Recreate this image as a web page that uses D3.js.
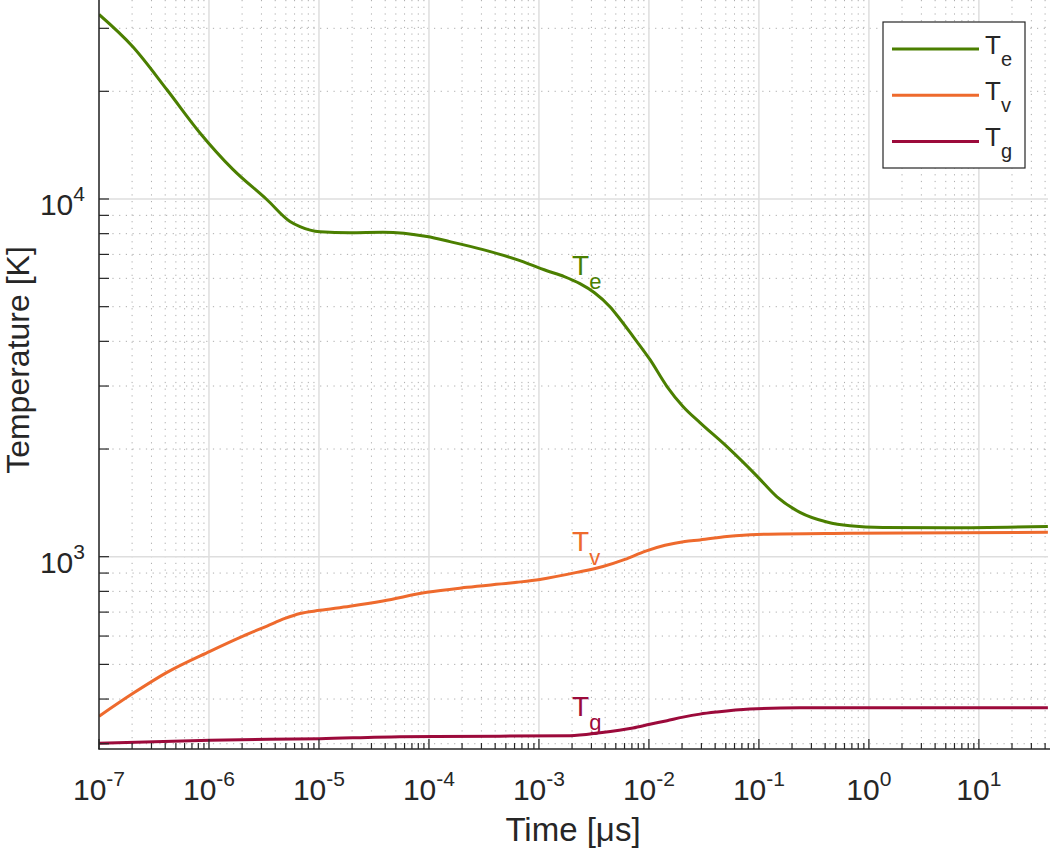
<!DOCTYPE html>
<html>
<head>
<meta charset="utf-8">
<script src="https://cdn.jsdelivr.net/npm/d3@7"></script>
<style>
  html, body { margin: 0; padding: 0; background: #fff; }
  svg { display: block; }
  text { font-family: "Liberation Sans", Arial, Helvetica, sans-serif; fill: #262626; }
</style>
</head>
<body>
<svg id="chart" width="1050" height="849"></svg>
<script>
// ---- data ----
const teTime = [1e-7, 2.04e-7, 4.15e-7, 8.28e-7, 1.65e-6, 3.37e-6, 5.45e-6, 6.72e-6, 1.02e-5, 1.91e-5, 3.82e-5, 9.59e-5, 1.55e-4, 3.1e-4, 6.31e-4, 1.18e-3, 1.7e-3, 2.36e-3, 3.2e-3, 4.42e-3, 5.45e-3, 7.16e-3, 1.02e-2, 1.46e-2, 2.04e-2, 2.91e-2, 5.12e-2, 9.6e-2, 0.146, 0.236, 0.415, 0.671, 1.34, 5.45, 42.4];
const teValues = [32800, 26600, 20200, 15300, 12100, 9950, 8650, 8370, 8100, 8050, 8070, 7850, 7600, 7220, 6770, 6300, 6070, 5800, 5470, 5000, 4620, 4130, 3560, 2990, 2630, 2370, 2030, 1680, 1470, 1330, 1250, 1220, 1207, 1205, 1215];

const tvTime = [1e-7, 2.04e-7, 4.15e-7, 1.02e-6, 2.04e-6, 3.37e-6, 4.91e-6, 6.72e-6, 1.02e-5, 1.91e-5, 3.82e-5, 9.59e-5, 2.22e-4, 6.31e-4, 1.02e-3, 2.21e-3, 3.82e-3, 6.05e-3, 9.2e-3, 1.4e-2, 2.12e-2, 2.91e-2, 5.12e-2, 9.6e-2, 0.671, 42.4];
const tvValues = [358, 415, 475, 544, 600, 640, 672, 694, 708, 727, 752, 795, 821, 848, 864, 904, 939, 983, 1035, 1076, 1103, 1114, 1139, 1154, 1162, 1170];

const tgTime = [1e-7, 1.02e-6, 1.02e-5, 5.45e-5, 4.42e-4, 1.91e-3, 3.59e-3, 7.16e-3, 1.02e-2, 1.46e-2, 2.04e-2, 2.91e-2, 4.15e-2, 8.28e-2, 0.236, 42.4];
const tgValues = [301, 307, 310, 314, 315, 316, 322, 332, 340, 348, 356, 363, 368, 375, 378, 378];

const seriesNames = ["e", "v", "g"];
const seriesColors = ["#4b7f00", "#ee6a2d", "#9c0a3b"];
const xTickExponents = [-7, -6, -5, -4, -3, -2, -1, 0, 1];
const yTickExponents = [3, 4];
const annotations = [
  { sub: "e", t: 2.0e-3, T: 6145 },
  { sub: "v", t: 2.0e-3, T: 1035 },
  { sub: "g", t: 2.0e-3, T: 358 }
];
const xLabel = "Time [μs]";
const yLabel = "Temperature [K]";

// ---- layout ----
const pLeft = 99, pRight = 1048, pTop = 0, pBottom = 749;
const x = d3.scaleLog().domain([1e-7, 42.5]).range([pLeft, pRight]);
const y = d3.scaleLog().domain([290, 36000]).range([pBottom, pTop]);

const svg = d3.select("#chart");
svg.append("rect").attr("width", 1050).attr("height", 849).attr("fill", "#fff");

const xMinor = [];
for (let e = -7; e <= 1; e++) for (let m = 2; m <= 9; m++) { const v = m * Math.pow(10, e); if (v <= 42.5) xMinor.push(v); }
const yMinor = [];
for (let e = 2; e <= 4; e++) for (let m = 2; m <= 9; m++) { const v = m * Math.pow(10, e); if (v >= 290 && v <= 36000) yMinor.push(v); }
const xMajor = xTickExponents.map(e => Math.pow(10, e));
const yMajor = yTickExponents.map(e => Math.pow(10, e));

const grid = svg.append("g");
grid.selectAll(".xm").data(xMinor).enter().append("line")
  .attr("x1", d => x(d)).attr("x2", d => x(d)).attr("y1", pTop).attr("y2", pBottom)
  .attr("stroke", "#8c8c8c").attr("stroke-width", 1).attr("stroke-dasharray", "1.2,5.5").attr("opacity", 0.7);
grid.selectAll(".ym").data(yMinor).enter().append("line")
  .attr("y1", d => y(d)).attr("y2", d => y(d)).attr("x1", pLeft).attr("x2", pRight)
  .attr("stroke", "#8c8c8c").attr("stroke-width", 1).attr("stroke-dasharray", "1.2,5.5").attr("opacity", 0.7);
grid.selectAll(".xM").data(xMajor).enter().append("line")
  .attr("x1", d => x(d)).attr("x2", d => x(d)).attr("y1", pTop).attr("y2", pBottom)
  .attr("stroke", "#dedede").attr("stroke-width", 1.5);
grid.selectAll(".yM").data(yMajor).enter().append("line")
  .attr("y1", d => y(d)).attr("y2", d => y(d)).attr("x1", pLeft).attr("x2", pRight)
  .attr("stroke", "#dedede").attr("stroke-width", 1.5);

// ---- lines ----
const series = [
  { name: seriesNames[0], color: seriesColors[0], t: teTime, v: teValues },
  { name: seriesNames[1], color: seriesColors[1], t: tvTime, v: tvValues },
  { name: seriesNames[2], color: seriesColors[2], t: tgTime, v: tgValues }
];
const line = d3.line().x(d => x(d[0])).y(d => y(d[1])).curve(d3.curveMonotoneX);
const plot = svg.append("g");
plot.append("clipPath").attr("id", "clip").append("rect")
  .attr("x", pLeft).attr("y", pTop).attr("width", pRight - pLeft + 2).attr("height", pBottom - pTop);
series.slice().reverse().forEach(s => {
  plot.append("path")
    .datum(s.t.map((t, i) => [t, s.v[i]]))
    .attr("d", line)
    .attr("fill", "none")
    .attr("stroke", s.color)
    .attr("stroke-width", 3)
    .attr("stroke-linejoin", "round")
    .attr("clip-path", "url(#clip)");
});

// ---- axes ----
const axes = svg.append("g");
axes.append("line").attr("x1", pLeft).attr("x2", pLeft).attr("y1", pTop).attr("y2", pBottom + 0.5)
  .attr("stroke", "#262626").attr("stroke-width", 1.5);
axes.append("line").attr("x1", pLeft - 0.5).attr("x2", pRight + 2).attr("y1", pBottom).attr("y2", pBottom)
  .attr("stroke", "#262626").attr("stroke-width", 1.5);
axes.selectAll(".xt").data(xMajor).enter().append("line")
  .attr("x1", d => x(d)).attr("x2", d => x(d)).attr("y1", pBottom).attr("y2", pBottom - 10)
  .attr("stroke", "#262626").attr("stroke-width", 1.2);
axes.selectAll(".xtm").data(xMinor).enter().append("line")
  .attr("x1", d => x(d)).attr("x2", d => x(d)).attr("y1", pBottom).attr("y2", pBottom - 6)
  .attr("stroke", "#262626").attr("stroke-width", 1.2);
axes.selectAll(".yt").data(yMajor).enter().append("line")
  .attr("y1", d => y(d)).attr("y2", d => y(d)).attr("x1", pLeft).attr("x2", pLeft + 10)
  .attr("stroke", "#262626").attr("stroke-width", 1.2);
axes.selectAll(".ytm").data(yMinor).enter().append("line")
  .attr("y1", d => y(d)).attr("y2", d => y(d)).attr("x1", pLeft).attr("x2", pLeft + 10)
  .attr("stroke", "#262626").attr("stroke-width", 1.2);

xTickExponents.forEach(e => {
  const t = axes.append("text").attr("x", x(Math.pow(10, e))).attr("y", pBottom + 51)
    .attr("text-anchor", "middle").attr("font-size", 30);
  t.append("tspan").text("10");
  t.append("tspan").attr("dy", -14).attr("font-size", 21).text(String(e));
});
yTickExponents.forEach(e => {
  const t = axes.append("text").attr("x", pLeft - 14).attr("y", y(Math.pow(10, e)) + 16)
    .attr("text-anchor", "end").attr("font-size", 30);
  t.append("tspan").text("10");
  t.append("tspan").attr("dy", -14).attr("font-size", 21).text(String(e));
});

svg.append("text").attr("x", 573).attr("y", 841)
  .attr("text-anchor", "middle").attr("font-size", 33).text(xLabel);
svg.append("text").attr("transform", "translate(29,360) rotate(-90)")
  .attr("text-anchor", "middle").attr("font-size", 32).text(yLabel);

annotations.forEach((a, i) => {
  const t = svg.append("text").attr("x", x(a.t)).attr("y", y(a.T))
    .attr("font-size", 28).style("fill", seriesColors[i]);
  t.append("tspan").text("T");
  t.append("tspan").attr("dy", 14).attr("font-size", 22).text(a.sub);
});

const lg = svg.append("g");
lg.append("rect").attr("x", 883).attr("y", 22).attr("width", 142).attr("height", 146)
  .attr("fill", "#fff").attr("stroke", "#262626").attr("stroke-width", 1.2);
series.forEach((s, i) => {
  const yy = 49 + i * 46.3;
  lg.append("line").attr("x1", 892).attr("x2", 979).attr("y1", yy).attr("y2", yy)
    .attr("stroke", s.color).attr("stroke-width", 3);
  const t = lg.append("text").attr("x", 985).attr("y", yy + 4.5).attr("font-size", 26);
  t.append("tspan").text("T");
  t.append("tspan").attr("dy", 12).attr("font-size", 20).text(s.name);
});
</script>
</body>
</html>
